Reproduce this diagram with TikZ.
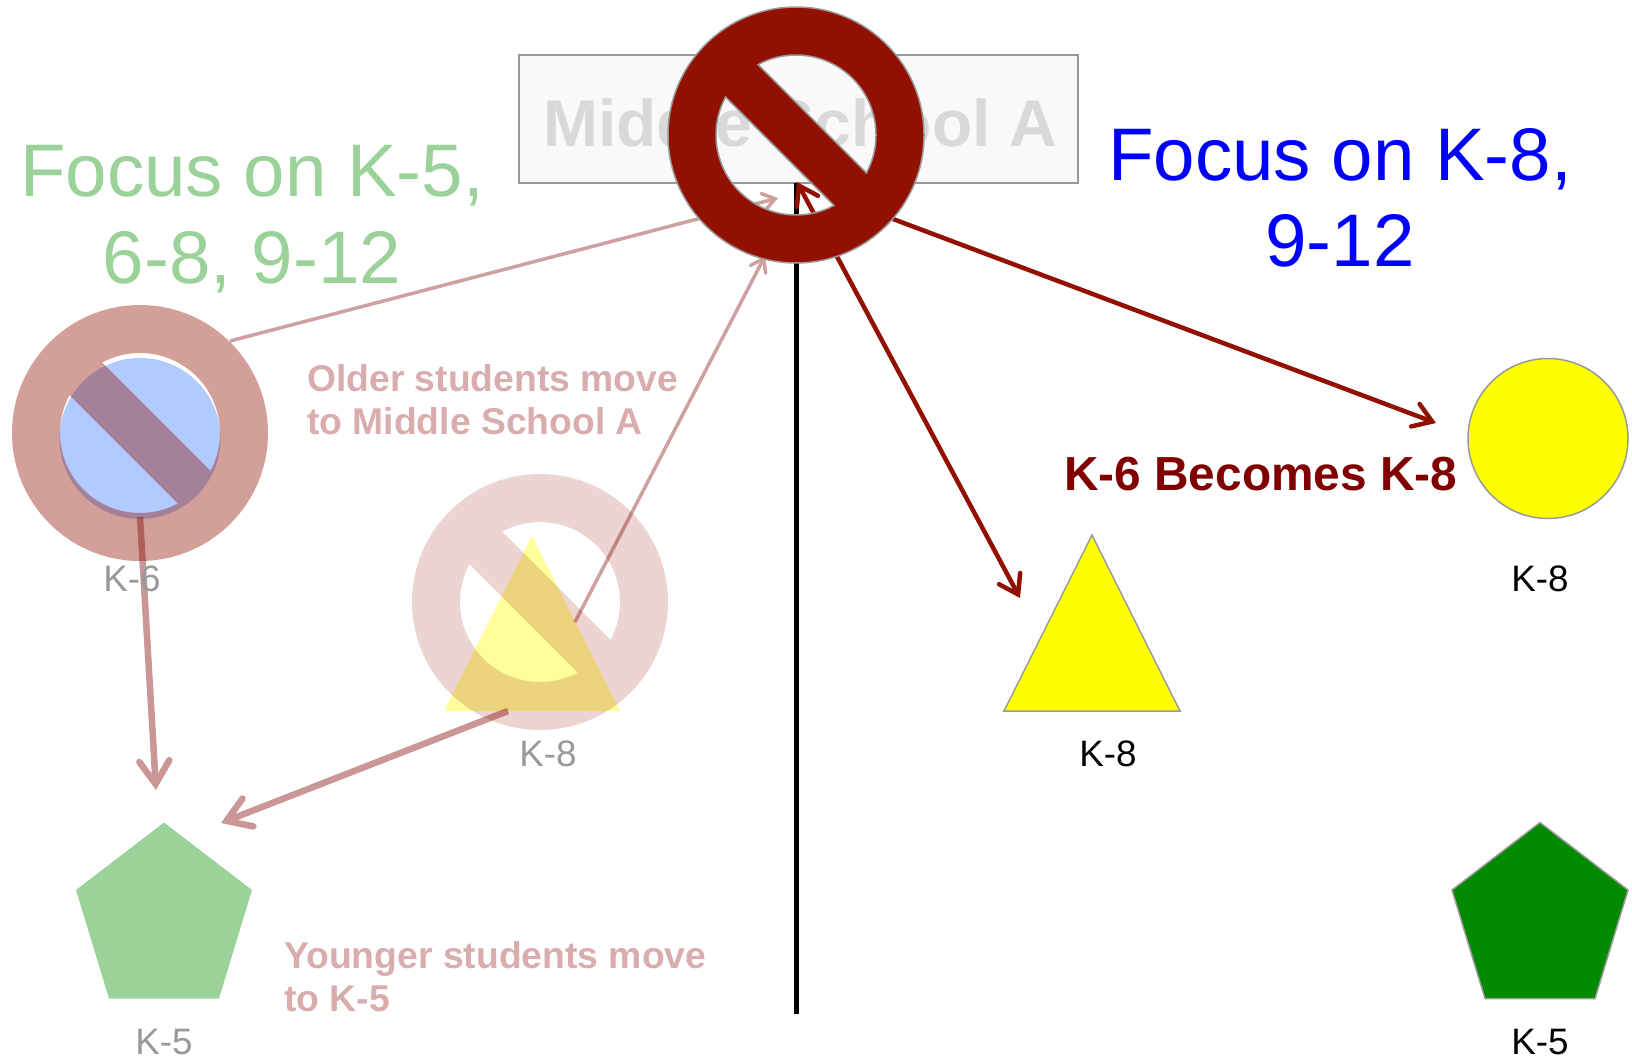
\documentclass[tikz,border=0pt]{standalone}
\usepackage{fontspec}
\setmainfont{Liberation Sans}
\usetikzlibrary{arrows.meta}
\definecolor{ringred}{HTML}{921000}
\definecolor{arrowred}{HTML}{921000}
\definecolor{fadearrow}{HTML}{800404}
\definecolor{fadegreen}{HTML}{9AD29A}
\definecolor{fadetext}{HTML}{D9ADAD}
\definecolor{fadeblue}{HTML}{B2CBFF}
\definecolor{edgegray}{HTML}{999999}
\definecolor{pureyellow}{HTML}{FFFF00}
\definecolor{puregreen}{HTML}{008A00}
\definecolor{titlered}{HTML}{800000}
\tikzset{
  nosign/.pic={
    \path[even odd rule,pic actions]
      (0,0) circle (128pt)
      (-28.3:80pt) arc[start angle=-28.3,end angle=118.3,radius=80pt] -- cycle
      (151.7:80pt) arc[start angle=151.7,end angle=298.3,radius=80pt] -- cycle;
  },
  tag/.style={font=\fontsize{36.8}{40}\selectfont,inner sep=0pt,anchor=base},
  fadetag/.style={tag,text=edgegray},
  headline/.style={font=\fontsize{74.5}{86}\selectfont,inner sep=0pt,align=center,anchor=base},
  movenote/.style={font=\bfseries\fontsize{37.3}{43}\selectfont,text=fadetext,inner sep=0pt,align=left,anchor=base west},
  thinbarb/.tip={Straight Barb[length=12pt,width=17pt,line cap=round,line join=miter]},
  thickbarb/.tip={Straight Barb[length=23pt,width=30pt,line cap=round,line join=miter]},
  darkbarb/.tip={Straight Barb[length=18pt,width=24pt,line cap=round,line join=miter]},
  thinfade/.style={draw=fadearrow,line width=3.5pt,-thinbarb},
  thickfade/.style={draw=fadearrow,line width=6.5pt,-thickbarb},
  darkarrow/.style={draw=arrowred,line width=4.5pt,-darkbarb},
  shapeedge/.style={draw=edgegray,line width=1.5pt},
}
\begin{document}
\begin{tikzpicture}[x=1pt,y=1pt,yscale=-1]
\useasboundingbox (0,0) rectangle (1632,1060);
% school box
\node[draw=edgegray,line width=2pt,fill=black!2.5,minimum width=559pt,minimum height=128pt,inner sep=0pt] (school) at (798.5,119) {};
\node[font=\bfseries\fontsize{66}{70}\selectfont,text=black!15,inner sep=0pt,anchor=base] (schooltext) at (800,146) {Middle School A};
% headlines
\node[headline,text=fadegreen] (focusa) at (252,196) {Focus on K-5,};
\node[headline,text=fadegreen] (focusb) at (252,283) {6-8, 9-12};
\node[headline,text=blue] (focusc) at (1340,180) {Focus on K-8,};
\node[headline,text=blue] (focusd) at (1340,266) {9-12};
% anchors for the connectors
\coordinate (spine top) at (796,183);
\coordinate (spine foot) at (796,1014);
\coordinate (k6 top) at (230,341);
\coordinate (hub left) at (778,198);
\coordinate (tri right) at (575,622);
\coordinate (hub low) at (765,256);
\coordinate (k6 low) at (140,517);
\coordinate (pent top) at (156,790);
\coordinate (tri low) at (508,711);
\coordinate (pent right) at (221,823);
\coordinate (hub right) at (893,219);
\coordinate (circle left) at (1436,423);
\coordinate (hub tip) at (797,182);
\coordinate (tri left) at (1020,598);
% black divider
\draw[line width=5pt] (spine top) -- (spine foot);
% left faded shapes
\node[circle,fill=fadeblue,minimum size=161pt,inner sep=0pt] (k6 circle) at (140,438.5) {};
\pic[fill=ringred,fill opacity=.4] (k6 ban) at (140,433) {nosign};
\path[fill=pureyellow,fill opacity=.4] (532,536) -- (620,711) -- (444,711) -- cycle;
\pic[fill=ringred,fill opacity=.18] (k8 ban) at (540,602) {nosign};
\path[fill=fadegreen] (164,822.5) -- (252,890) -- (219,998.5) -- (109,998.5) -- (76,890) -- cycle;
% right shapes
\node[circle,shapeedge,fill=pureyellow,minimum size=160pt,inner sep=0pt] (k8 circle) at (1548,438.5) {};
\draw[shapeedge,fill=pureyellow] (1092,535) -- (1180,711) -- (1004,711) -- cycle;
\draw[shapeedge,fill=puregreen] (1540,822.5) -- (1628,890) -- (1595,998.5) -- (1485,998.5) -- (1452,890) -- cycle;
% connectors
\begin{scope}[transparency group,opacity=.38]
\draw[thinfade] (k6 top) -- (hub left);
\end{scope}
\begin{scope}[transparency group,opacity=.38]
\draw[thinfade] (tri right) -- (hub low);
\end{scope}
\begin{scope}[transparency group,opacity=.42]
\draw[thickfade] (k6 low) -- (pent top);
\end{scope}
\begin{scope}[transparency group,opacity=.42]
\draw[thickfade] (tri low) -- (pent right);
\end{scope}
\draw[darkarrow] (hub right) -- (circle left);
\draw[darkarrow,darkbarb-darkbarb] (hub tip) -- (tri left);
% top ban sign
\pic[fill=ringred,draw=edgegray,line width=1.5pt] (top ban) at (796,135) {nosign};
% notes
\node[movenote] (older) at (307,391) {Older students move};
\node[movenote] (olderb) at (307,434) {to Middle School A};
\node[movenote] (younger) at (284,968) {Younger students move};
\node[movenote] (youngerb) at (284,1011) {to K-5};
\node[font=\bfseries\fontsize{47.8}{52}\selectfont,text=titlered,inner sep=0pt,anchor=base west] (becomes) at (1064,490) {K-6 Becomes K-8};
% labels
\node[fadetag] (label k6) at (132,591) {K-6};
\node[fadetag] (label k8) at (548,766) {K-8};
\node[fadetag] (label k5) at (164,1054) {K-5};
\node[tag] (label k8 tri) at (1108,766) {K-8};
\node[tag] (label k8 circ) at (1540,591) {K-8};
\node[tag] (label k5 pent) at (1540,1054) {K-5};
\end{tikzpicture}
\end{document}
